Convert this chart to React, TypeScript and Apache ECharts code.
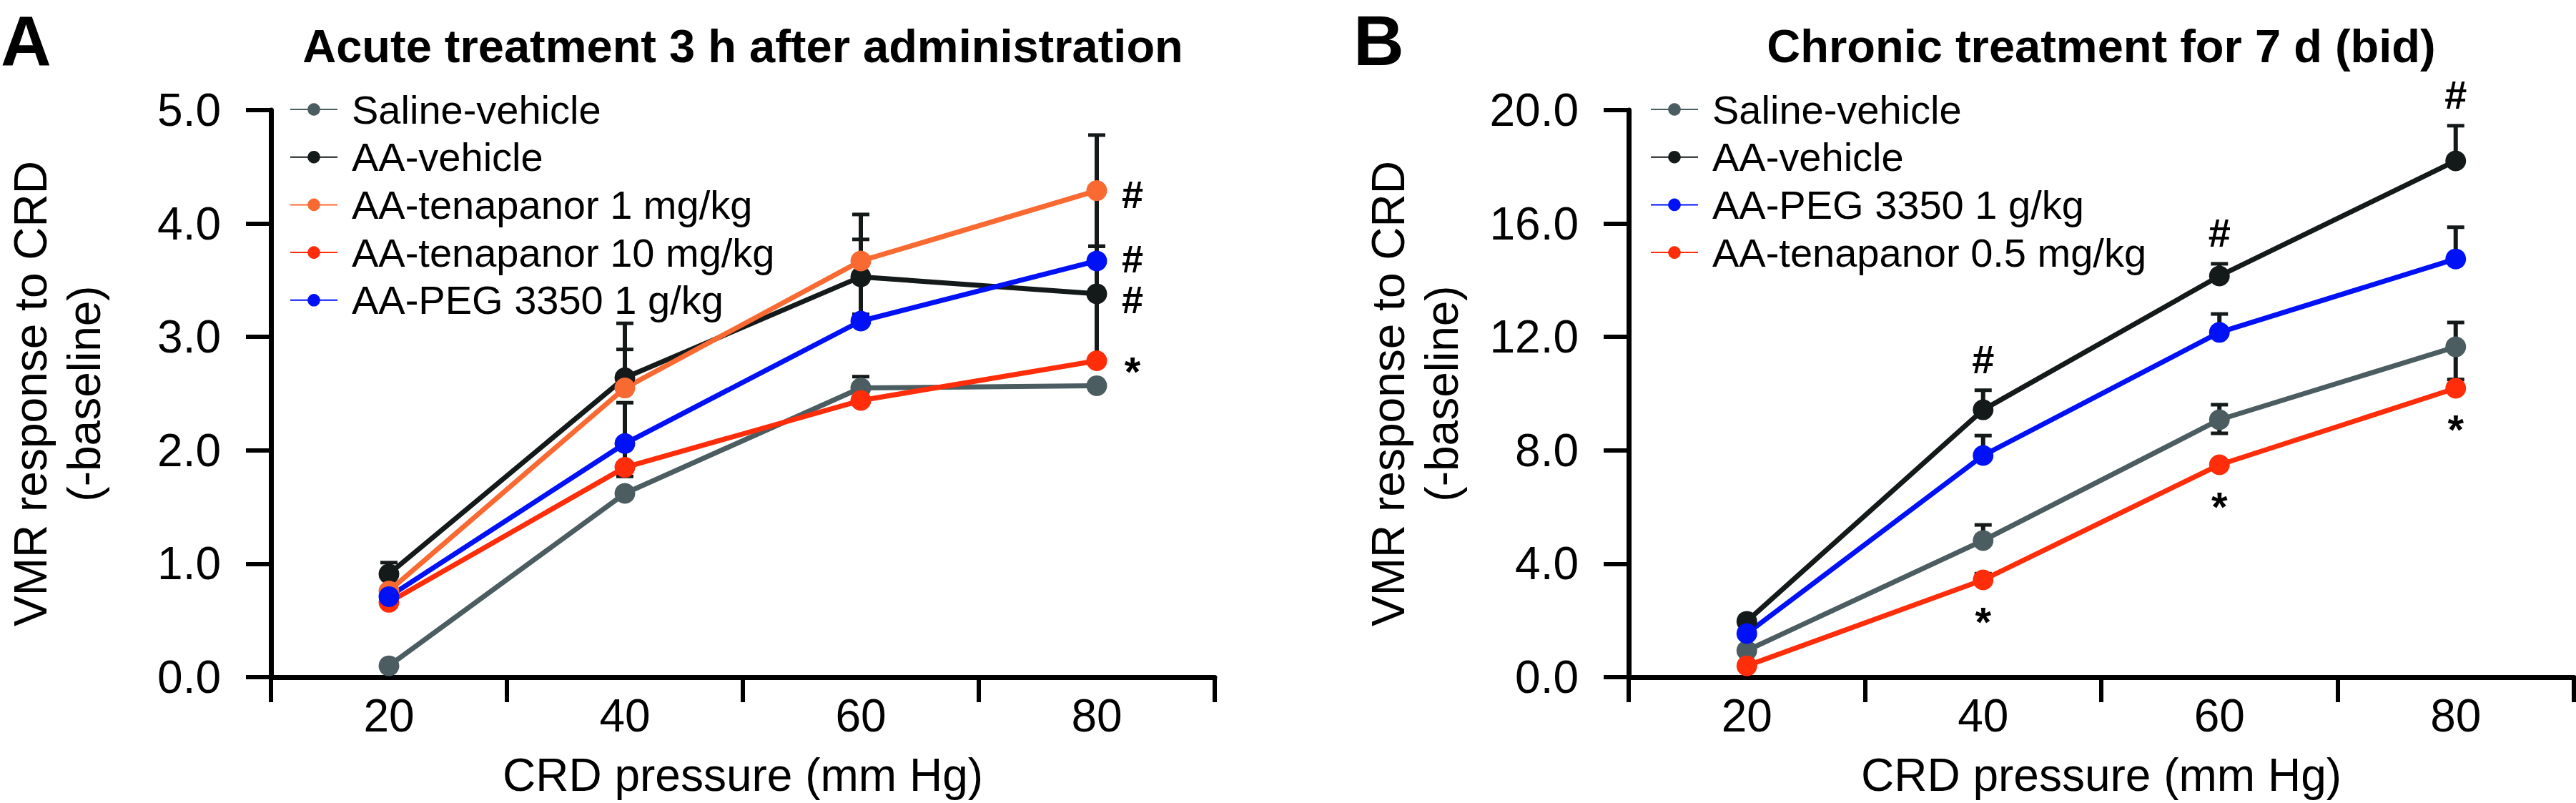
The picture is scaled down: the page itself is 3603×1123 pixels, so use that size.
import React, { useEffect, useRef } from "react";
import * as echarts from "echarts";

const FONT = "'Liberation Sans', Arial, Helvetica, sans-serif";

const categories = ["20", "40", "60", "80"];

// Panel A: acute treatment
const salineA = [0.1, 1.62, 2.55, 2.57];
const aaVehicleA = [0.91, 2.64, 3.53, 3.38];
const ten1A = [0.76, 2.55, 3.67, 4.29];
const ten10A = [0.66, 1.85, 2.44, 2.79];
const pegA = [0.71, 2.06, 3.14, 3.67];
// error bars [categoryIndex, low, high]
const errA = [
  [0, 0.91, 1.01],
  [1, 2.64, 3.12],
  [1, 2.55, 2.89],
  [1, 1.77, 2.42],
  [2, 3.2, 3.86],
  [2, 3.67, 4.08],
  [2, 2.55, 2.65],
  [3, 3.8, 4.78],
  [3, 2.79, 3.8],
];
// significance marks anchored at [categoryIndex, value]
const hashA = [
  [3, 4.27],
  [3, 3.7],
  [3, 3.34],
];
const starA = [[3, 2.79]];

// Panel B: chronic treatment
const salineB = [0.94, 4.82, 9.08, 11.65];
const aaVehicleB = [1.97, 9.43, 14.15, 18.21];
const pegB = [1.54, 7.82, 12.16, 14.75];
const ten05B = [0.4, 3.43, 7.49, 10.19];
const errB = [
  [1, 9.43, 10.12],
  [1, 7.82, 8.52],
  [1, 4.82, 5.37],
  [1, 3.43, 3.65],
  [2, 14.15, 14.58],
  [2, 12.16, 12.81],
  [2, 8.6, 9.61],
  [3, 18.21, 19.45],
  [3, 14.75, 15.87],
  [3, 10.5, 12.51],
];
const hashB = [
  [1, 10.12],
  [2, 14.58],
  [3, 19.45],
];
const starB = [
  [1, 3.43],
  [2, 7.49],
  [3, 10.19],
];

const C_GRAY = "#4b5d61";
const C_BLACK = "#141919";
const C_ORANGE = "#f96a32";
const C_RED = "#ff2d0a";
const C_BLUE = "#0012f5";

function lineSeries(name: string, data: number[], color: string, axis: number) {
  return {
    type: "line",
    name,
    data,
    xAxisIndex: axis,
    yAxisIndex: axis,
    symbol: "circle",
    symbolSize: 29,
    lineStyle: { color, width: 7 },
    itemStyle: { color },
    z: 3,
  };
}

function errRender(params: any, api: any) {
  const i = api.value(0);
  const lo = api.coord([i, api.value(1)]);
  const hi = api.coord([i, api.value(2)]);
  const cw = 12;
  return {
    type: "group",
    children: [
      { type: "line", shape: { x1: lo[0], y1: lo[1], x2: hi[0], y2: hi[1] }, style: { stroke: C_BLACK, lineWidth: 6 } },
      { type: "line", shape: { x1: hi[0] - cw, y1: hi[1], x2: hi[0] + cw, y2: hi[1] }, style: { stroke: C_BLACK, lineWidth: 5 } },
      { type: "line", shape: { x1: lo[0] - cw, y1: lo[1], x2: lo[0] + cw, y2: lo[1] }, style: { stroke: C_BLACK, lineWidth: 5 } },
    ],
  };
}

function errSeries(data: number[][], axis: number) {
  return {
    type: "custom",
    xAxisIndex: axis,
    yAxisIndex: axis,
    data,
    encode: { x: 0, y: [1, 2] },
    renderItem: errRender,
    z: 2,
    silent: true,
  };
}

function textSeries(data: number[][], txt: string, dx: number, dy: number, axis: number, size: number) {
  return {
    type: "custom",
    xAxisIndex: axis,
    yAxisIndex: axis,
    data,
    encode: { x: 0, y: 1 },
    z: 4,
    silent: true,
    renderItem: (params: any, api: any) => {
      const p = api.coord([api.value(0), api.value(1)]);
      return {
        type: "text",
        x: p[0] + dx,
        y: p[1] + dy,
        style: {
          text: txt,
          fontSize: size,
          lineHeight: 40,
          fontWeight: "bold",
          fontFamily: FONT,
          fill: "#000",
          align: "center",
          verticalAlign: "middle",
        },
      };
    },
  };
}

function xAxisCfg(grid: number) {
  return {
    type: "category",
    gridIndex: grid,
    data: categories,
    boundaryGap: true,
    axisLine: { show: true, lineStyle: { color: "#000", width: 7 } },
    axisTick: { show: true, length: 35, lineStyle: { color: "#000", width: 6 } },
    axisLabel: { fontSize: 64, color: "#000", margin: 22, fontFamily: FONT },
    name: "CRD pressure (mm Hg)",
    nameLocation: "middle",
    nameGap: 105,
    nameTextStyle: { fontSize: 64, color: "#000", fontFamily: FONT },
    splitLine: { show: false },
  };
}

function yAxisCfg(grid: number, max: number, interval: number) {
  return {
    type: "value",
    gridIndex: grid,
    min: 0,
    max,
    interval,
    axisLine: { show: true, lineStyle: { color: "#000", width: 7 } },
    axisTick: { show: true, length: 35, lineStyle: { color: "#000", width: 6 } },
    axisLabel: {
      fontSize: 64,
      color: "#000",
      margin: 70,
      fontFamily: FONT,
      formatter: (v: number) => v.toFixed(1),
    },
    splitLine: { show: false },
    name: "VMR response to CRD\n(-baseline)",
    nameLocation: "middle",
    nameRotate: 90,
    nameGap: 224,
    nameTextStyle: { fontSize: 64, lineHeight: 75, color: "#000", fontFamily: FONT },
  };
}

function legendCfg(left: number, names: string[]) {
  return {
    orient: "vertical",
    left,
    top: 118,
    itemWidth: 66,
    itemHeight: 22,
    itemGap: 6.7,
    selectedMode: false,
    data: names,
    textStyle: { fontSize: 56, lineHeight: 60, color: "#000", fontFamily: FONT, padding: [0, 0, 0, 15] },
  };
}

export default function App() {
  const ref = useRef<HTMLDivElement>(null);
  useEffect(() => {
    if (!ref.current) return;
    const chart = echarts.init(ref.current, undefined, { renderer: "svg" });
    chart.setOption({
      animation: false,
      backgroundColor: "#fff",
      grid: [
        { left: 379, top: 154, width: 1320, height: 793 },
        { left: 2278, top: 154, width: 1322, height: 793 },
      ],
      xAxis: [xAxisCfg(0), xAxisCfg(1)],
      yAxis: [yAxisCfg(0, 5, 1), yAxisCfg(1, 20, 4)],
      legend: [
        legendCfg(400, ["Saline-vehicle", "AA-vehicle", "AA-tenapanor 1 mg/kg", "AA-tenapanor 10 mg/kg", "AA-PEG 3350 1 g/kg"]),
        legendCfg(2303, ["Saline-vehicle", "AA-vehicle", "AA-PEG 3350 1 g/kg", "AA-tenapanor 0.5 mg/kg"]),
      ],
      graphic: [
        { type: "text", x: 1, y: 57, style: { text: "A", fontSize: 98, lineHeight: 98, fontWeight: "bold", fontFamily: FONT, fill: "#000", align: "left", verticalAlign: "middle" } },
        { type: "text", x: 1893, y: 57, style: { text: "B", fontSize: 98, lineHeight: 98, fontWeight: "bold", fontFamily: FONT, fill: "#000", align: "left", verticalAlign: "middle" } },
        { type: "text", x: 1039, y: 64, style: { text: "Acute treatment 3 h after administration", fontSize: 65, lineHeight: 70, fontWeight: "bold", fontFamily: FONT, fill: "#000", align: "center", verticalAlign: "middle" } },
        { type: "text", x: 2939, y: 64, style: { text: "Chronic treatment for 7 d (bid)", fontSize: 65, lineHeight: 70, fontWeight: "bold", fontFamily: FONT, fill: "#000", align: "center", verticalAlign: "middle" } },
      ],
      series: [
        errSeries(errA, 0),
        lineSeries("Saline-vehicle", salineA, C_GRAY, 0),
        lineSeries("AA-vehicle", aaVehicleA, C_BLACK, 0),
        lineSeries("AA-tenapanor 1 mg/kg", ten1A, C_ORANGE, 0),
        lineSeries("AA-tenapanor 10 mg/kg", ten10A, C_RED, 0),
        lineSeries("AA-PEG 3350 1 g/kg", pegA, C_BLUE, 0),
        textSeries(hashA, "#", 50, 2, 0, 54),
        textSeries(starA, "*", 50, 15, 0, 58),
        errSeries(errB, 1),
        lineSeries("Saline-vehicle", salineB, C_GRAY, 1),
        lineSeries("AA-vehicle", aaVehicleB, C_BLACK, 1),
        lineSeries("AA-PEG 3350 1 g/kg", pegB, C_BLUE, 1),
        lineSeries("AA-tenapanor 0.5 mg/kg", ten05B, C_RED, 1),
        textSeries(hashB, "#", 0, -43, 1, 56),
        textSeries(starB, "*", 0, 58, 1, 58),
      ],
    });
    return () => chart.dispose();
  }, []);
  return (
    <div
      ref={ref}
      style={{ position: "absolute", left: 0, top: 0, width: 3603, height: 1123, background: "#fff" }}
    />
  );
}
